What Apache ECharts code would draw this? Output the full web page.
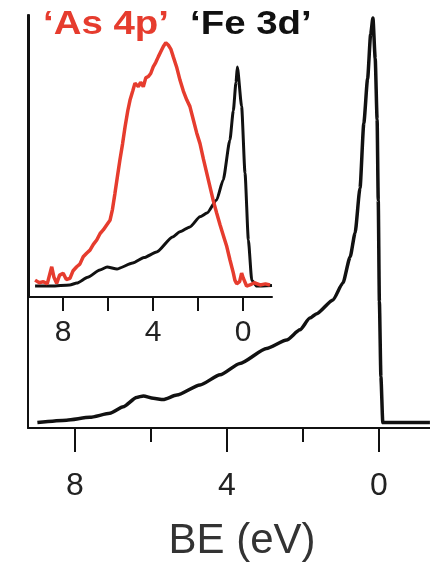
<!DOCTYPE html>
<html>
<head>
<meta charset="utf-8">
<script src="https://cdn.jsdelivr.net/npm/echarts@6/dist/echarts.min.js"></script>
<style>
html,body{margin:0;padding:0;background:#fff;}
#chart{width:430px;height:567px;}
</style>
</head>
<body>
<div id="chart"></div>
<script>
// Main Fe 3d spectrum (binding energy, normalized intensity)
const mainBE = [8.99,8.22,7.61,7.08,6.73,6.38,6.2,5.94,5.68,5.32,4.71,4.18,3.66,2.96,2.43,2.08,1.82,1.64,1.21,0.95,0.76,0.63,0.5,0.4,0.3,0.22,0.16,0.1,0.05,0.02,-0.01,-0.05,-0.1,-1.34];
const mainI  = [0.001,0.007,0.014,0.024,0.04,0.063,0.067,0.061,0.058,0.069,0.094,0.119,0.147,0.184,0.205,0.23,0.259,0.27,0.304,0.346,0.41,0.469,0.58,0.74,0.85,0.96,1.0,0.9,0.75,0.55,0.30,0.114,0.001,0.001];

// Inset: 'Fe 3d' partial DOS
const insetFeBE = [9.24,8.5,7.7,7.38,6.9,6.36,6.04,5.6,4.9,4.4,3.84,3.13,2.8,2.36,1.91,1.6,1.17,0.88,0.58,0.43,0.31,0.25,0.06,-0.09,-0.24,-0.39,-0.61,-1.29];
const insetFeI  = [0.0,0.0,0.005,0.014,0.04,0.073,0.087,0.078,0.105,0.13,0.155,0.224,0.248,0.27,0.316,0.333,0.393,0.484,0.667,0.80,0.93,1.0,0.82,0.516,0.21,0.027,0.0,0.003];

// Inset: 'As 4p' partial DOS
const insetAsBE = [9.24,9.05,8.87,8.7,8.5,8.4,8.28,8.15,7.99,7.85,7.69,7.55,7.39,7.25,7.1,6.95,6.8,6.65,6.5,6.35,6.21,6.05,5.91,5.8,5.69,5.58,5.47,5.35,5.24,5.12,5.02,4.9,4.8,4.65,4.55,4.43,4.32,4.21,4.1,3.99,3.88,3.76,3.65,3.54,3.43,3.32,3.2,3.1,2.95,2.8,2.65,2.5,2.36,2.21,2.06,1.91,1.76,1.61,1.46,1.32,1.17,1.02,0.87,0.72,0.58,0.43,0.36,0.28,0.15,0.06,-0.01,-0.16,-0.31,-0.5,-0.76,-1.0,-1.2];
const insetAsI  = [0.027,0.015,0.02,0.01,0.088,0.04,0.012,0.05,0.058,0.03,0.035,0.07,0.088,0.1,0.134,0.15,0.164,0.19,0.21,0.24,0.256,0.28,0.30,0.35,0.423,0.5,0.575,0.65,0.727,0.8,0.849,0.89,0.926,0.91,0.93,0.91,0.95,0.956,0.97,1.0,1.02,1.047,1.07,1.093,1.11,1.10,1.08,1.047,1.0,0.94,0.89,0.85,0.82,0.76,0.70,0.65,0.58,0.515,0.45,0.39,0.333,0.28,0.23,0.18,0.12,0.06,0.027,0.01,0.02,0.059,0.037,0.0,0.005,0.015,0.005,0.01,0.005];

// Tick values and labels
const majorTicks = [0, 4, 8];
const minorTicks = [2, 6];
const allTicks = [0, 2, 4, 6, 8];
const labelAs = '\u2018As 4p\u2019';
const labelFe = '\u2018Fe 3d\u2019';
const axisTitle = 'BE (eV)';

const zip = (a, b) => a.map((v, i) => [v, b[i]]);
const FONT = '"Liberation Sans", Arial, sans-serif';
const RED = '#e63c2e';

const chart = echarts.init(document.getElementById('chart'), null, {renderer: 'canvas'});

const lineStyleAxis = {color: '#111', width: 2};

chart.setOption({
  animation: false,
  backgroundColor: '#fff',
  graphic: [
    {type: 'text', x: 43, y: 8, scaleX: 1.13, z: 10,
     style: {text: labelAs, fill: RED, font: 'bold 34px ' + FONT, textVerticalAlign: 'top'}},
    {type: 'text', x: 190, y: 8, scaleX: 1.13, z: 10,
     style: {text: labelFe, fill: '#111', font: 'bold 34px ' + FONT, textVerticalAlign: 'top'}}
  ],
  grid: [
    {left: 28, right: 0, top: 15, bottom: 139},
    {left: 29, right: 158, top: 15, bottom: 270}
  ],
  xAxis: [
    {gridIndex: 0, type: 'value', position: 'bottom', inverse: true, min: -1.342, max: 9.237,
     axisLine: {show: true, onZero: false, lineStyle: lineStyleAxis},
     axisTick: {show: true, customValues: majorTicks, length: 24, lineStyle: {color: '#111', width: 2}},
     axisLabel: {show: true, customValues: majorTicks, margin: 42, fontFamily: FONT, fontSize: 32, color: '#222'},
     splitLine: {show: false},
     name: axisTitle, nameLocation: 'middle', nameGap: 92,
     nameTextStyle: {fontFamily: FONT, fontSize: 42, color: '#333', padding: [0, 0, 0, 26]}},
    {gridIndex: 0, type: 'value', position: 'bottom', offset: 0, inverse: true, min: -1.342, max: 9.237,
     axisLine: {show: false, onZero: false},
     axisTick: {show: true, customValues: minorTicks, length: 14, lineStyle: {color: '#111', width: 2}},
     axisLabel: {show: false},
     splitLine: {show: false}},
    {gridIndex: 1, type: 'value', position: 'bottom', inverse: true, min: -1.29, max: 9.51,
     axisLine: {show: true, onZero: false, lineStyle: lineStyleAxis},
     axisTick: {show: true, customValues: allTicks, length: 14, lineStyle: {color: '#111', width: 2}},
     axisLabel: {show: true, customValues: majorTicks, margin: 21, fontFamily: FONT, fontSize: 30, color: '#222'},
     splitLine: {show: false}}
  ],
  yAxis: [
    {gridIndex: 0, type: 'value', min: -0.0123, max: 1.0074,
     axisLine: {show: true, onZero: false, lineStyle: lineStyleAxis},
     axisTick: {show: false}, axisLabel: {show: false}, splitLine: {show: false}},
    {gridIndex: 1, type: 'value', min: -0.05, max: 1.237,
     axisLine: {show: true, onZero: false, lineStyle: lineStyleAxis},
     axisTick: {show: false}, axisLabel: {show: false}, splitLine: {show: false}}
  ],
  series: [
    {type: 'line', xAxisIndex: 0, yAxisIndex: 0, data: zip(mainBE, mainI), showSymbol: false,
     smooth: 0.2, smoothMonotone: 'x', lineStyle: {color: '#111', width: 3.5}},
    {type: 'line', xAxisIndex: 2, yAxisIndex: 1, data: zip(insetFeBE, insetFeI), showSymbol: false,
     smooth: 0.2, smoothMonotone: 'x', lineStyle: {color: '#111', width: 3}},
    {type: 'line', xAxisIndex: 2, yAxisIndex: 1, data: zip(insetAsBE, insetAsI), showSymbol: false,
     lineStyle: {color: RED, width: 3.5}}
  ]
});
</script>
</body>
</html>
